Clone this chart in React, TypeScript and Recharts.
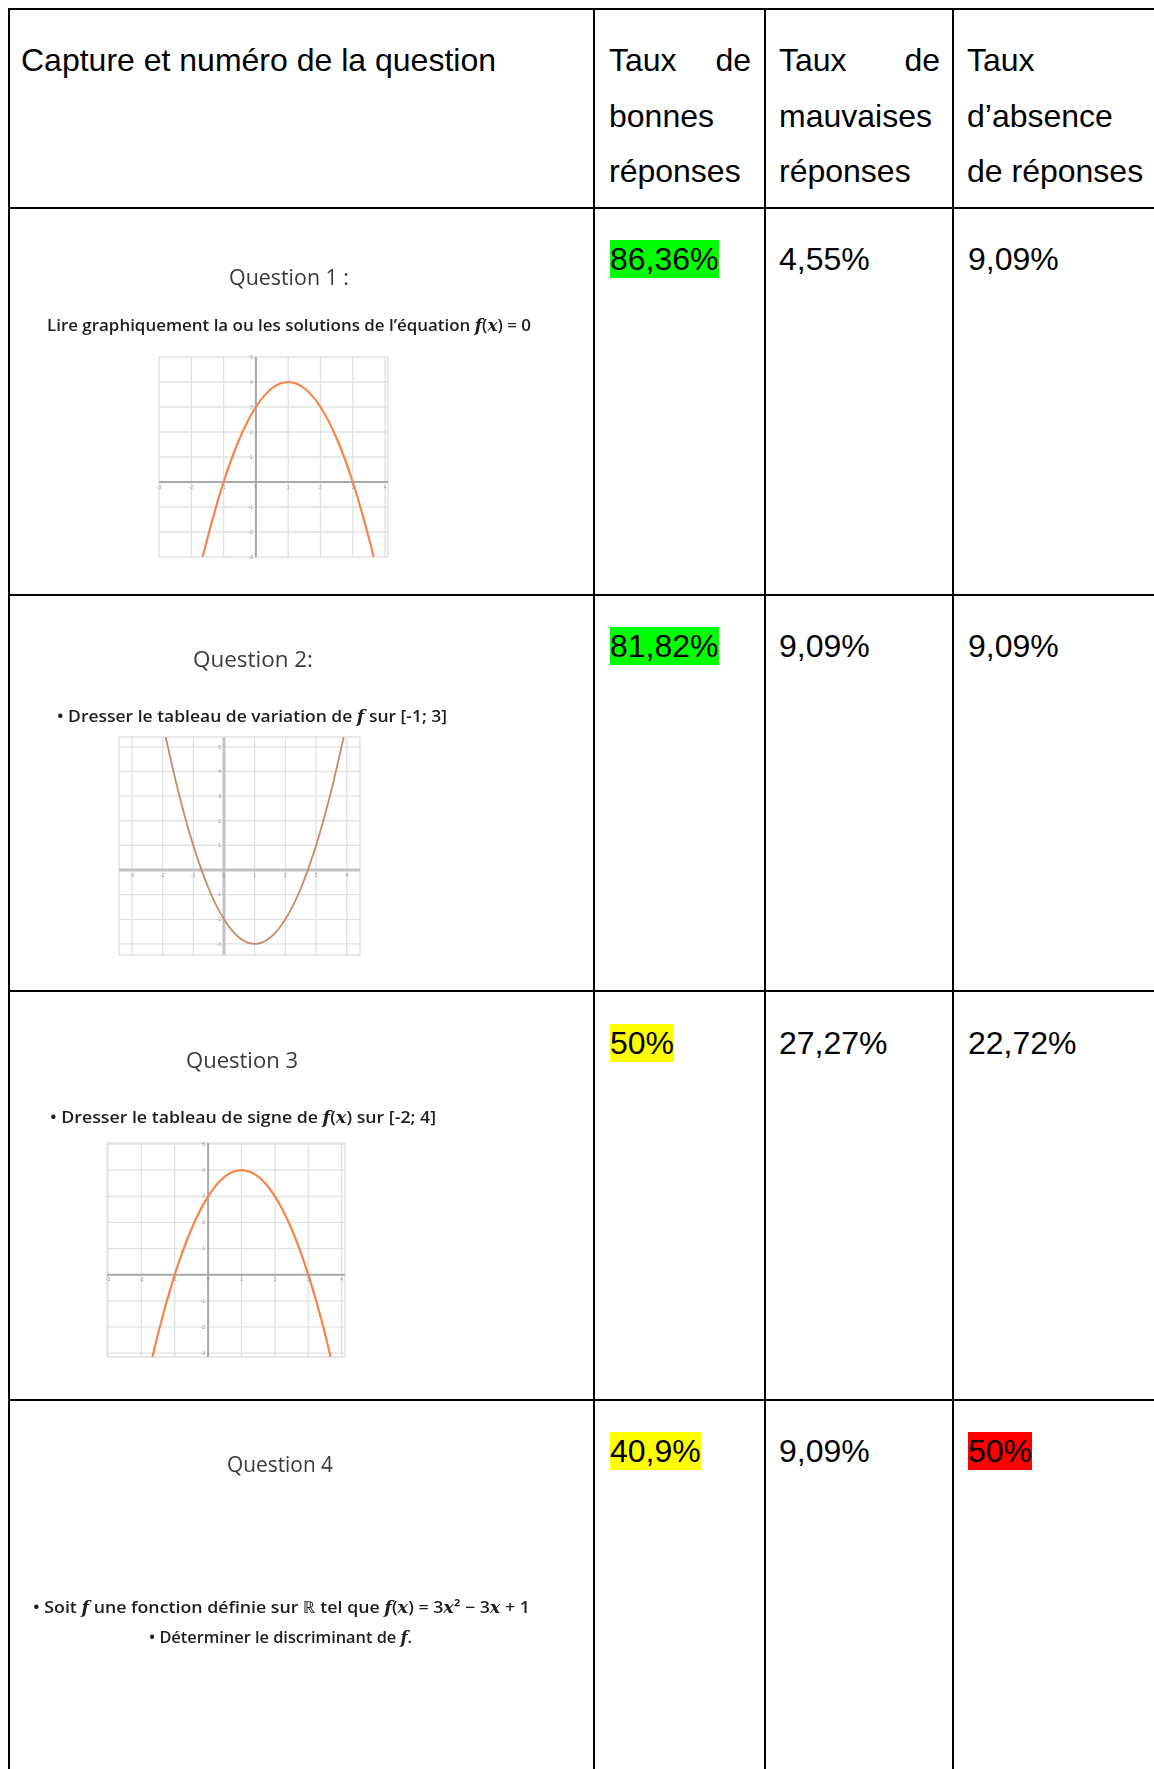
import React from 'react';
import { LineChart, Line, XAxis, YAxis, CartesianGrid, ReferenceLine, ReferenceDot } from 'recharts';

// ---------- data ----------
const xTicks = [-3, -2, -1, 0, 1, 2, 3, 4];
const yTicks = [-3, -2, -1, 0, 1, 2, 3, 4, 5];

const curveQ1 = [
  { x: -1.65, y: -3 }, { x: -1.5, y: -2.25 }, { x: -1, y: 0 }, { x: -0.5, y: 1.75 },
  { x: 0, y: 3 }, { x: 0.5, y: 3.75 }, { x: 1, y: 4 }, { x: 1.5, y: 3.75 },
  { x: 2, y: 3 }, { x: 2.5, y: 1.75 }, { x: 3, y: 0 }, { x: 3.5, y: -2.25 }, { x: 3.65, y: -3 },
];
const curveQ2 = [
  { x: -1.9, y: 5.4 }, { x: -1.5, y: 3.25 }, { x: -1, y: 1 }, { x: -0.5, y: -0.75 },
  { x: 0, y: -2 }, { x: 0.5, y: -2.75 }, { x: 1, y: -3 }, { x: 1.5, y: -2.75 },
  { x: 2, y: -2 }, { x: 2.5, y: -0.75 }, { x: 3, y: 1 }, { x: 3.5, y: 3.25 }, { x: 3.9, y: 5.4 },
];
const curveQ3 = [
  { x: -1.67, y: -3.15 }, { x: -1.5, y: -2.25 }, { x: -1, y: 0 }, { x: -0.5, y: 1.75 },
  { x: 0, y: 3 }, { x: 0.5, y: 3.75 }, { x: 1, y: 4 }, { x: 1.5, y: 3.75 },
  { x: 2, y: 3 }, { x: 2.5, y: 1.75 }, { x: 3, y: 0 }, { x: 3.5, y: -2.25 }, { x: 3.67, y: -3.15 },
];

const headers = ['Capture et numéro de la question', 'Taux de bonnes réponses', 'Taux de mauvaises réponses', 'Taux d’absence de réponses'];
const questions = ['Question 1 :', 'Question 2:', 'Question 3', 'Question 4'];
const bonnes = ['86,36%', '81,82%', '50%', '40,9%'];
const mauvaises = ['4,55%', '9,09%', '27,27%', '9,09%'];
const absences = ['9,09%', '9,09%', '22,72%', '50%'];

// ---------- styles ----------
const bonnesBg = ['#00ff00', '#00ff00', '#ffff00', '#ffff00'];
const absencesBg = ['transparent', 'transparent', 'transparent', '#ff0000'];
const rowLines = [208, 595, 991, 1400];
const valueTops = [240, 627, 1024, 1432];
const colLines = [9, 594, 765, 953];
const M = 8;

const HL = ({ y }: { y: number }) => (
  <div style={{ position: 'absolute', left: 8, top: y - 1, width: 1146, height: 2, background: '#000' }} />
);
const VL = ({ x }: { x: number }) => (
  <div style={{ position: 'absolute', left: x - 1, top: 8, width: 2, height: 1761, background: '#000' }} />
);

const Txt = ({ left, center, children, width, justify }: any) => (
  <div
    style={{
      position: 'absolute', left, top: center - 18, fontSize: 32, lineHeight: '37px', whiteSpace: 'nowrap',
      width, display: justify ? 'flex' : 'block', justifyContent: justify ? 'space-between' : undefined,
    }}
  >
    {children}
  </div>
);

const Val = ({ left, top, text, bg }: { left: number; top: number; text: string; bg?: string }) => (
  <div
    style={{
      position: 'absolute', left, top, fontSize: 32, lineHeight: '38px', height: 38, whiteSpace: 'nowrap',
      background: bg || 'transparent', color: '#000',
    }}
  >
    {text}
  </div>
);

function Parabola({ left, top, width, height, xDomain, yDomain, data, color, lineW, axisW, axisColor }: any) {
  return (
    <div style={{ position: 'absolute', left: left - M, top: top - M, filter: 'blur(0.35px)' }}>
      <LineChart width={width + 2 * M} height={height + 2 * M} data={data} margin={{ top: M, right: M, bottom: M, left: M }}>
        <CartesianGrid stroke="#e1e1e1" strokeWidth={1.3} />
        <XAxis type="number" dataKey="x" domain={xDomain} ticks={xTicks} hide allowDataOverflow />
        <YAxis type="number" domain={yDomain} ticks={yTicks} hide allowDataOverflow />
        <ReferenceLine x={0} stroke={axisColor} strokeWidth={axisW} />
        <ReferenceLine y={0} stroke={axisColor} strokeWidth={axisW} />
        {xTicks.map((t) => (
          <ReferenceDot key={'x' + t} x={t} y={0} r={0} stroke="none" fill="none"
            label={{ value: String(t), position: 'bottom', fontSize: 5, fill: '#999', offset: 3 }} />
        ))}
        {yTicks.filter((t) => t !== 0).map((t) => (
          <ReferenceDot key={'y' + t} x={0} y={t} r={0} stroke="none" fill="none"
            label={{ value: String(t), position: 'left', fontSize: 5, fill: '#999', offset: 3 }} />
        ))}
        <Line type="monotone" dataKey="y" stroke={color} strokeWidth={lineW} dot={false} isAnimationActive={false} />
      </LineChart>
    </div>
  );
}

const mathI = { fontFamily: '"DejaVu Serif", "Liberation Serif", serif', fontStyle: 'italic' as const };

export default function App() {
  const h1 = headers[1].split(' ');
  const h2 = headers[2].split(' ');
  const h3 = headers[3].split(' ');
  return (
    <div style={{ position: 'relative', width: 1154, height: 1769, overflow: 'hidden', background: '#fff', fontFamily: '"Liberation Sans", Arial, sans-serif', color: '#000' }}>
      <style>{`html,body{margin:0;padding:0;overflow:hidden;background:#fff;}`}</style>

      {/* table lines */}
      <HL y={9} />
      {rowLines.map((y) => <HL key={y} y={y} />)}
      {colLines.map((x) => <VL key={x} x={x} />)}

      {/* header */}
      <Txt left={21} center={60}>{headers[0]}</Txt>
      <Txt left={609} center={60} width={142} justify><span>{h1[0]}</span><span>{h1[1]}</span></Txt>
      <Txt left={609} center={115.5}>{h1[2]}</Txt>
      <Txt left={609} center={171}>{h1[3]}</Txt>
      <Txt left={779} center={60} width={161} justify><span>{h2[0]}</span><span>{h2[1]}</span></Txt>
      <Txt left={779} center={115.5}>{h2[2]}</Txt>
      <Txt left={779} center={171}>{h2[3]}</Txt>
      <Txt left={967} center={60}>{h3[0]}</Txt>
      <Txt left={967} center={115.5}>{h3[1]}</Txt>
      <Txt left={967} center={171}>{h3[2] + ' ' + h3[3]}</Txt>

      {/* values */}
      {bonnes.map((v, i) => <Val key={'b' + i} left={610} top={valueTops[i]} text={v} bg={bonnesBg[i]} />)}
      {mauvaises.map((v, i) => <Val key={'m' + i} left={779} top={valueTops[i]} text={v} />)}
      {absences.map((v, i) => <Val key={'a' + i} left={968} top={valueTops[i]} text={v} bg={absencesBg[i]} />)}

      {/* first column texts */}
      <svg width={594} height={1769} style={{ position: 'absolute', left: 0, top: 0, filter: 'blur(0.3px)' }}>
        <g fontFamily='"Open Sans", "Noto Sans", sans-serif'>
          <text x={229} y={285} fontSize={22} fill="#3a3a3a" textLength={120} lengthAdjust="spacingAndGlyphs">{questions[0]}</text>
          <text x={47} y={331} fontSize={17} fontWeight={600} fill="#1e1e1e" textLength={484} lengthAdjust="spacingAndGlyphs">
            Lire graphiquement  la ou les solutions de l’équation <tspan {...mathI}>f</tspan>(<tspan {...mathI}>x</tspan>) = 0
          </text>

          <text x={193} y={667} fontSize={22} fill="#3a3a3a" textLength={120} lengthAdjust="spacingAndGlyphs">{questions[1]}</text>
          <text x={57} y={722} fontSize={17} fontWeight={600} fill="#1e1e1e" textLength={390} lengthAdjust="spacingAndGlyphs">
            • Dresser le tableau de variation de <tspan {...mathI}>f</tspan> sur [-1; 3]
          </text>

          <text x={186} y={1068} fontSize={22} fill="#3a3a3a" textLength={112} lengthAdjust="spacingAndGlyphs">{questions[2]}</text>
          <text x={50} y={1123} fontSize={17} fontWeight={600} fill="#1e1e1e" textLength={386} lengthAdjust="spacingAndGlyphs">
            • Dresser le tableau de signe de <tspan {...mathI}>f</tspan>(<tspan {...mathI}>x</tspan>) sur  [-2; 4]
          </text>

          <text x={227} y={1472} fontSize={22} fill="#3a3a3a" textLength={106} lengthAdjust="spacingAndGlyphs">{questions[3]}</text>
          <text x={33} y={1613} fontSize={16} fontWeight={600} fill="#1e1e1e" textLength={497} lengthAdjust="spacingAndGlyphs">
            • Soit <tspan {...mathI}>f</tspan> une fonction  définie sur ℝ tel que <tspan {...mathI}>f</tspan>(<tspan {...mathI}>x</tspan>) = 3<tspan {...mathI}>x</tspan>² − 3<tspan {...mathI}>x</tspan> + 1
          </text>
          <text x={149} y={1643} fontSize={16} fontWeight={600} fill="#1e1e1e" textLength={263} lengthAdjust="spacingAndGlyphs">
            • Déterminer  le discriminant  de <tspan {...mathI}>f</tspan>.
          </text>
        </g>
      </svg>

      {/* graphs */}
      <Parabola left={159} top={357} width={229} height={200} xDomain={[-3, 4.09]} yDomain={[-3, 5]}
        data={curveQ1} color="#f5864a" lineW={2.2} axisW={2} axisColor="#a8a8a8" />
      <Parabola left={119} top={737} width={241} height={218} xDomain={[-3.42, 4.43]} yDomain={[-3.45, 5.4]}
        data={curveQ2} color="#c98a6c" lineW={1.8} axisW={3} axisColor="#c2c2c2" />
      <Parabola left={107} top={1143} width={238} height={214} xDomain={[-3.03, 4.1]} yDomain={[-3.15, 5.04]}
        data={curveQ3} color="#f5864a" lineW={2.2} axisW={2} axisColor="#a8a8a8" />
    </div>
  );
}
